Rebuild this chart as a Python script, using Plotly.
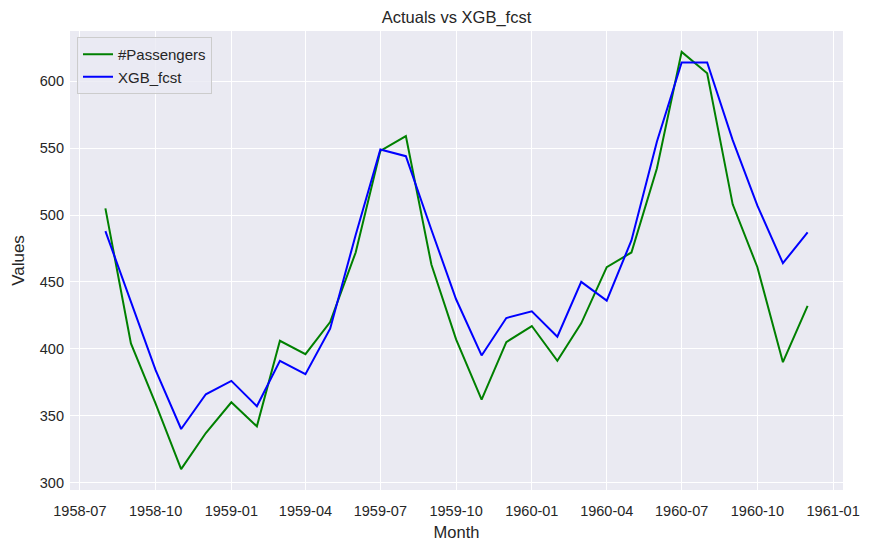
import plotly.graph_objects as go

months = [
    "1958-08-01", "1958-09-01", "1958-10-01", "1958-11-01", "1958-12-01",
    "1959-01-01", "1959-02-01", "1959-03-01", "1959-04-01", "1959-05-01", "1959-06-01",
    "1959-07-01", "1959-08-01", "1959-09-01", "1959-10-01", "1959-11-01", "1959-12-01",
    "1960-01-01", "1960-02-01", "1960-03-01", "1960-04-01", "1960-05-01", "1960-06-01",
    "1960-07-01", "1960-08-01", "1960-09-01", "1960-10-01", "1960-11-01", "1960-12-01",
]
passengers = [505, 404, 359, 310, 337,
              360, 342, 406, 396, 420, 472, 548, 559, 463, 407, 362, 405,
              417, 391, 419, 461, 472, 535, 622, 606, 508, 461, 390, 432]
xgb_fcst = [488, 435, 384, 340, 366,
            376, 357, 391, 381, 415, 485, 549, 544, 489, 437, 395, 423,
            428, 409, 450, 436, 481, 555, 614, 614, 556, 507, 464, 487]

tick_vals = ["1958-07-01", "1958-10-01", "1959-01-01", "1959-04-01", "1959-07-01",
             "1959-10-01", "1960-01-01", "1960-04-01", "1960-07-01", "1960-10-01", "1961-01-01"]
tick_text = ["1958-07", "1958-10", "1959-01", "1959-04", "1959-07",
             "1959-10", "1960-01", "1960-04", "1960-07", "1960-10", "1961-01"]

font_family = "Liberation Sans, Arial, sans-serif"
text_color = "#262626"

fig = go.Figure()
fig.add_trace(go.Scatter(x=months, y=passengers, mode="lines", name="#Passengers",
                         line=dict(color="#008000", width=2)))
fig.add_trace(go.Scatter(x=months, y=xgb_fcst, mode="lines", name="XGB_fcst",
                         line=dict(color="#0000FF", width=2)))

fig.update_layout(
    width=872, height=550,
    margin=dict(l=62, r=37, t=23, b=68),
    paper_bgcolor="white",
    plot_bgcolor="#EAEAF2",
    font=dict(family=font_family, size=14.5, color=text_color),
    title=dict(text="Actuals vs XGB_fcst", x=0.5, xanchor="center", xref="paper",
               y=1, yanchor="top", yref="container", pad=dict(t=3, b=0),
               font=dict(size=16.5, color=text_color)),
    showlegend=True,
    legend=dict(x=7 / 773, y=1 - 6 / 459, xanchor="left", yanchor="top",
                bgcolor="rgba(234,234,242,0.8)", bordercolor="#CCCCCC", borderwidth=1,
                font=dict(size=15, color=text_color), tracegroupgap=0),
    xaxis=dict(type="date", range=["1958-06-19", "1961-01-13"],
               tickmode="array", tickvals=tick_vals, ticktext=tick_text,
               showgrid=True, gridcolor="white", gridwidth=1.3,
               zeroline=False, showline=False, ticks="", automargin=False,
               ticklabelstandoff=10,
               title=dict(text="Month", font=dict(size=16.5, color=text_color), standoff=8),
               tickfont=dict(size=14.5, color=text_color)),
    yaxis=dict(range=[294.4, 637.6], tickmode="linear", tick0=300, dtick=50,
               showgrid=True, gridcolor="white", gridwidth=1.3,
               zeroline=False, showline=False, ticks="", automargin=False,
               ticklabelstandoff=5,
               title=dict(text="Values", font=dict(size=17, color=text_color), standoff=10),
               tickfont=dict(size=14.5, color=text_color)),
)

fig.write_html("out.html")
